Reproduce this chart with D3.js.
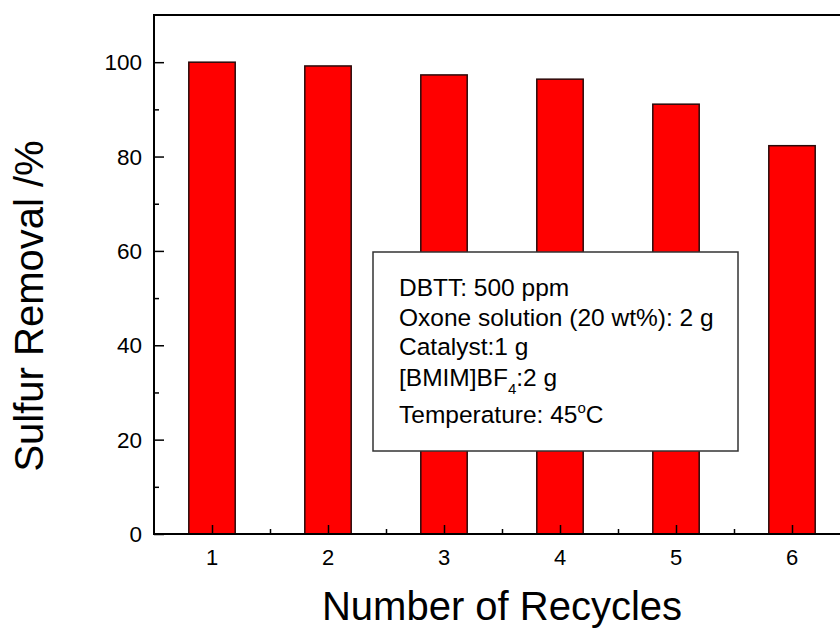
<!DOCTYPE html>
<html>
<head>
<meta charset="utf-8">
<script src="https://cdn.jsdelivr.net/npm/d3@7"></script>
<style>
  body { margin: 0; background: #fff; }
  svg { font-family: Arial, "Liberation Sans", sans-serif; display: block; }
</style>
</head>
<body>
<div id="chart"></div>
<script>
// data
const cycles = [1, 2, 3, 4, 5, 6];
const removal = [100, 99.2, 97.3, 96.4, 91.1, 82.3];
const yTicks = [0, 20, 40, 60, 80, 100];
const yMinor = [10, 30, 50, 70, 90];
const xMinor = [1.5, 2.5, 3.5, 4.5, 5.5];

const W = 840, H = 628;
const margin = { top: 15, left: 154, right: -10, bottom: 94 };
const width = W - margin.left - margin.right;
const height = H - margin.top - margin.bottom;

const svg = d3.select('#chart').append('svg')
  .attr('width', W)
  .attr('height', H);

const x = d3.scaleLinear().domain([0.5, 6.5]).range([0, width]);
const y = d3.scaleLinear().domain([0, 110]).range([height, 0]);
const barW = x(1.4) - x(1);

const g = svg.append('g')
  .attr('transform', `translate(${margin.left},${margin.top})`);

// bars
g.selectAll('rect.bar')
  .data(cycles.map((c, i) => ({ c, v: removal[i] })))
  .enter().append('rect')
  .attr('class', 'bar')
  .attr('x', d => x(d.c) - barW / 2)
  .attr('y', d => y(d.v))
  .attr('width', barW)
  .attr('height', d => y(0) - y(d.v))
  .attr('fill', '#ff0000')
  .attr('stroke', '#2a0a0a')
  .attr('stroke-width', 1.5);

// y axis, ticks inward
g.append('g')
  .call(d3.axisRight(y).tickValues(yTicks).tickSize(10).tickFormat(''))
  .call(s => s.select('.domain').remove())
  .selectAll('line').attr('stroke', '#000').attr('stroke-width', 1.5);
g.append('g')
  .call(d3.axisRight(y).tickValues(yMinor).tickSize(5).tickFormat(''))
  .call(s => s.select('.domain').remove())
  .selectAll('line').attr('stroke', '#000').attr('stroke-width', 1.5);

g.selectAll('text.ylab')
  .data(yTicks)
  .enter().append('text')
  .attr('class', 'ylab')
  .attr('x', -12)
  .attr('y', d => y(d))
  .attr('dy', '0.36em')
  .attr('text-anchor', 'end')
  .attr('font-size', 22.5)
  .text(d => d);

// x axis, ticks inward
g.append('g')
  .attr('transform', `translate(0,${height})`)
  .call(d3.axisTop(x).tickValues(cycles).tickSize(9).tickFormat(''))
  .call(s => s.select('.domain').remove())
  .selectAll('line').attr('stroke', '#000').attr('stroke-width', 1.5);
g.append('g')
  .attr('transform', `translate(0,${height})`)
  .call(d3.axisTop(x).tickValues(xMinor).tickSize(5).tickFormat(''))
  .call(s => s.select('.domain').remove())
  .selectAll('line').attr('stroke', '#000').attr('stroke-width', 1.5);

g.selectAll('text.xlab')
  .data(cycles)
  .enter().append('text')
  .attr('class', 'xlab')
  .attr('x', d => x(d))
  .attr('y', height + 31)
  .attr('text-anchor', 'middle')
  .attr('font-size', 22)
  .text(d => d);

// frame
g.append('rect')
  .attr('x', 0).attr('y', 0)
  .attr('width', width).attr('height', height)
  .attr('fill', 'none')
  .attr('stroke', '#000')
  .attr('stroke-width', 2);

// axis titles
svg.append('text')
  .attr('x', margin.left + width / 2)
  .attr('y', 620)
  .attr('text-anchor', 'middle')
  .attr('font-size', 40)
  .text('Number of Recycles');

svg.append('text')
  .attr('transform', 'translate(43,306) rotate(-90)')
  .attr('text-anchor', 'middle')
  .attr('font-size', 40)
  .text('Sulfur Removal /%');

// annotation box
const box = g.append('g').attr('transform', `translate(${373 - margin.left},${252 - margin.top})`);
box.append('rect')
  .attr('width', 365).attr('height', 199)
  .attr('fill', '#fff')
  .attr('stroke', '#333')
  .attr('stroke-width', 1.5);

const fs = 24.5;
box.append('text').attr('font-size', fs).attr('x', 26).attr('y', 44)
  .text('DBTT: 500 ppm');
box.append('text').attr('font-size', fs).attr('x', 26).attr('y', 74)
  .text('Oxone solution (20 wt%): 2 g');
box.append('text').attr('font-size', fs).attr('x', 26).attr('y', 103)
  .text('Catalyst:1 g');
const t4 = box.append('text').attr('font-size', fs).attr('x', 26).attr('y', 134);
t4.append('tspan').text('[BMIM]BF');
t4.append('tspan').attr('font-size', 15).attr('dy', 8).text('4');
t4.append('tspan').attr('dy', -8).text(':2 g');
const t5 = box.append('text').attr('font-size', fs).attr('x', 26).attr('y', 171);
t5.append('tspan').text('Temperature: 45');
t5.append('tspan').attr('font-size', 15).attr('dy', -10).text('o');
t5.append('tspan').attr('dy', 10).text('C');
</script>
</body>
</html>
